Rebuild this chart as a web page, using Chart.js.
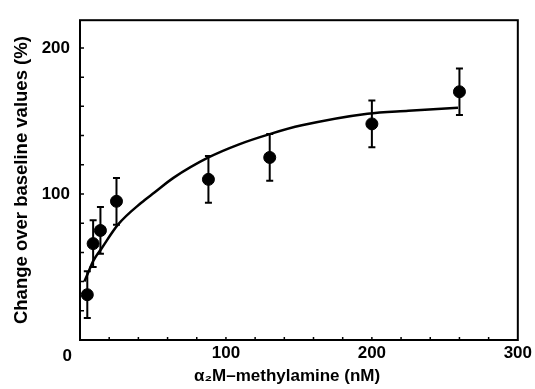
<!DOCTYPE html>
<html>
<head>
<meta charset="utf-8">
<script src="https://cdn.jsdelivr.net/npm/chart.js@4/dist/chart.umd.min.js"></script>
<style>
  html, body { margin: 0; padding: 0; background: #fff; }
  #wrap { width: 535px; height: 389px; position: relative; }
</style>
</head>
<body>
<div id="wrap"><canvas id="chart"></canvas></div>
<script>
// measured points (alpha2M-methylamine, nM) and response (% change over baseline)
const concentrations = [5, 9, 14, 25, 88, 130, 200, 260];
const changePct = [31, 66, 75, 95, 110, 125, 148, 170];
const errPct = [16, 16, 16, 16, 16, 16, 16, 16];

// fitted curve
const fitX = [3, 6, 9, 15, 26, 42, 51, 64, 88, 109, 130, 152, 197, 225, 259];
const fitY = [40, 47, 54, 63, 79, 94, 101, 111, 125, 134, 141, 147, 155, 157, 159];

const xTickLabels = [100, 200, 300];
const yTickLabels = [100, 200];

const FONT = "'Liberation Sans', Arial, Helvetica, sans-serif";

const frameAndBars = {
  id: 'frameAndBars',
  beforeDatasetsDraw(chart) {
    const { ctx, chartArea: a, scales: { x, y } } = chart;
    ctx.save();
    ctx.strokeStyle = '#000';
    ctx.fillStyle = '#000';

    // error bars
    ctx.lineWidth = 2;
    concentrations.forEach((c, i) => {
      const px = x.getPixelForValue(c);
      const top = y.getPixelForValue(changePct[i] + errPct[i]);
      const bot = y.getPixelForValue(changePct[i] - errPct[i]);
      ctx.beginPath();
      ctx.moveTo(px, top); ctx.lineTo(px, bot);
      ctx.moveTo(px - 3.5, top); ctx.lineTo(px + 3.5, top);
      ctx.moveTo(px - 3.5, bot); ctx.lineTo(px + 3.5, bot);
      ctx.stroke();
    });

    // minor ticks, inward, every 20
    ctx.lineWidth = 1.5;
    ctx.beginPath();
    for (let v = 20; v < 300; v += 20) {
      const px = x.getPixelForValue(v);
      ctx.moveTo(px, a.bottom); ctx.lineTo(px, a.bottom - 3);
    }
    for (let v = 20; v < 219; v += 20) {
      const py = y.getPixelForValue(v);
      ctx.moveTo(a.left, py); ctx.lineTo(a.left + 4, py);
    }
    ctx.stroke();

    // frame
    ctx.lineWidth = 2;
    ctx.strokeRect(a.left, a.top, a.right - a.left, a.bottom - a.top);

    // shared origin label
    ctx.font = 'bold 17px ' + FONT;
    ctx.textAlign = 'right';
    ctx.textBaseline = 'middle';
    ctx.fillText('0', x.getPixelForValue(0) - 8, y.getPixelForValue(0) + 16);
    ctx.restore();
  }
};

new Chart(document.getElementById('chart'), {
  type: 'scatter',
  data: {
    datasets: [
      {
        type: 'line',
        label: 'fit',
        data: fitX.map((v, i) => ({ x: v, y: fitY[i] })),
        borderColor: '#000',
        borderWidth: 2.5,
        pointRadius: 0,
        cubicInterpolationMode: 'monotone',
        fill: false
      },
      {
        label: 'measured',
        data: concentrations.map((v, i) => ({ x: v, y: changePct[i] })),
        backgroundColor: '#000',
        borderColor: '#000',
        pointRadius: 6,
        pointHoverRadius: 6
      }
    ]
  },
  options: {
    responsive: true,
    maintainAspectRatio: false,
    animation: false,
    layout: { padding: { top: 13, right: 15, left: 0, bottom: 0 } },
    plugins: { legend: { display: false }, tooltip: { enabled: false } },
    scales: {
      x: {
        type: 'linear',
        min: 0,
        max: 300,
        afterBuildTicks: s => { s.ticks = xTickLabels.map(v => ({ value: v })); },
        afterFit: s => { s.height = 49; },
        grid: { display: false, drawTicks: false },
        border: { display: false },
        ticks: {
          color: '#000',
          font: { family: FONT, size: 17, weight: 'bold' },
          padding: 3,
          maxRotation: 0,
          autoSkip: false
        },
        title: {
          display: true,
          text: 'α₂M–methylamine (nM)     ',
          color: '#000',
          font: { family: FONT, size: 17, weight: 'bold' },
          padding: { top: 0, bottom: 2 }
        }
      },
      y: {
        min: 0,
        max: 219,
        afterBuildTicks: s => { s.ticks = yTickLabels.map(v => ({ value: v })); },
        afterFit: s => { s.width = 80; },
        grid: { display: false, drawTicks: false },
        border: { display: false },
        ticks: {
          color: '#000',
          font: { family: FONT, size: 17, weight: 'bold' },
          padding: 10
        },
        title: {
          display: true,
          text: 'Change over baseline values (%)',
          color: '#000',
          font: { family: FONT, size: 18.5, weight: 'bold' },
          padding: { top: 11, bottom: 0 }
        }
      }
    }
  },
  plugins: [frameAndBars]
});
</script>
</body>
</html>
